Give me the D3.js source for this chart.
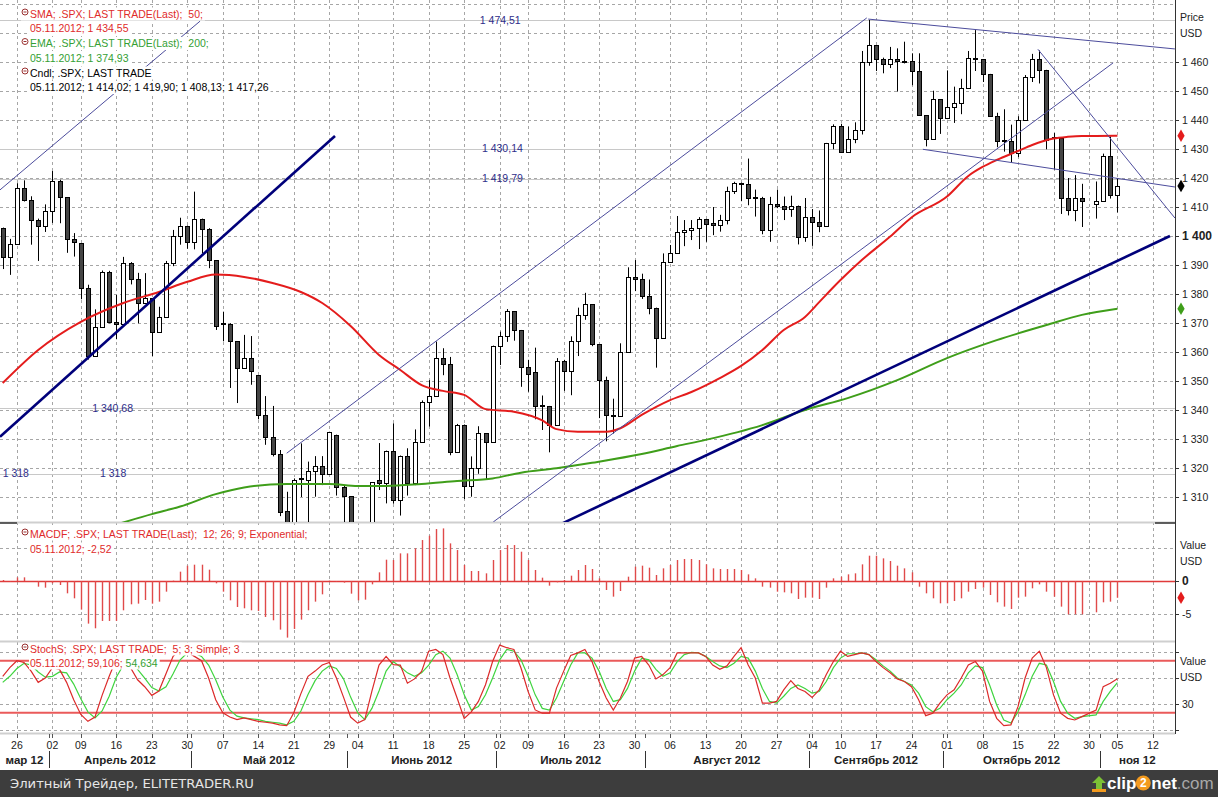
<!DOCTYPE html>
<html><head><meta charset="utf-8">
<script src="https://cdn.jsdelivr.net/npm/d3@7"></script>
<style>
body{margin:0;background:#fff;overflow:hidden}
svg{display:block}
text{font-family:"Liberation Sans",Arial,sans-serif;white-space:pre}
</style>
</head><body>
<svg id="c" width="1218" height="797"></svg>
<script>
// ---------------- DATA ----------------
const opens = [1402.9,1392.8,1397.1,1416.5,1412.5,1405.5,1403.3,1408.5,1419.0,1413.4,
1399.0,1397.5,1382.2,1358.6,1368.7,1387.6,1370.3,1369.6,1390.8,1385.1,
1376.9,1378.5,1366.9,1372.0,1390.7,1400.0,1403.4,1397.9,1405.8,1402.3,
1391.6,1369.9,1369.6,1363.7,1354.6,1358.0,1352.0,1338.4,1330.7,1324.8,
1305.1,1295.7,1316.7,1316.0,1318.9,1320.7,1317.8,1331.3,1313.3,1310.3,
1278.0,1278.2,1285.5,1315.9,1315.0,1325.7,1308.9,1324.2,1314.9,1329.1,
1342.8,1344.8,1358.0,1355.7,1325.5,1335.0,1313.7,1320.0,1331.9,1329.0,
1362.2,1365.5,1374.0,1367.6,1354.7,1353.0,1341.6,1341.4,1334.8,1356.8,
1353.6,1363.7,1372.8,1376.5,1362.7,1350.5,1338.4,1337.9,1360.0,1385.9,
1385.3,1379.3,1375.3,1365.0,1391.0,1394.2,1401.4,1402.2,1402.6,1405.9,
1404.4,1403.9,1405.5,1415.5,1418.2,1418.1,1413.5,1413.2,1402.1,1411.1,
1410.4,1409.3,1410.5,1399.5,1406.6,1404.9,1403.4,1432.1,1437.9,1429.1,
1433.6,1436.6,1460.0,1465.8,1461.2,1459.3,1461.1,1460.3,1460.2,1456.9,
1441.6,1433.3,1447.2,1440.7,1444.5,1445.8,1451.0,1461.4,1460.9,1455.9,
1441.5,1433.0,1432.8,1428.6,1440.1,1454.9,1460.9,1457.3,1434.0,1433.8,
1413.1,1408.8,1413.0,null,1411.0,1412.2,1427.6,1414.02];
const highs = [1402.9,1399.0,1418.2,1419.2,1413.7,1406.0,1410.9,1422.4,1419.4,1413.4,
1401.0,1397.5,1383.2,1374.7,1388.1,1388.0,1379.7,1392.8,1391.0,1387.3,
1387.2,1378.5,1375.6,1391.4,1402.1,1406.3,1403.6,1415.3,1406.0,1402.7,
1391.6,1373.9,1369.9,1363.7,1365.9,1365.5,1352.0,1344.8,1341.4,1326.2,
1311.8,1316.4,1328.5,1322.2,1324.1,1324.1,1332.5,1331.5,1314.0,1310.3,
1282.6,1287.1,1315.1,1328.6,1326.0,1335.4,1324.3,1326.8,1333.3,1343.3,
1350.3,1363.6,1361.3,1358.3,1335.2,1335.0,1324.0,1334.4,1331.9,1362.2,
1367.0,1374.8,1374.0,1367.6,1357.3,1361.5,1345.0,1341.4,1357.9,1357.3,
1365.4,1375.3,1380.4,1376.5,1362.7,1351.5,1343.9,1363.0,1389.2,1391.7,
1387.0,1385.0,1375.3,1394.0,1396.9,1406.9,1405.5,1405.5,1406.5,1405.9,
1410.0,1407.3,1417.0,1418.7,1418.4,1426.7,1416.0,1413.5,1413.5,1416.0,
1413.6,1413.9,1410.5,1413.1,1409.3,1408.8,1432.1,1438.5,1438.7,1437.8,
1439.2,1463.8,1474.5,1465.8,1461.5,1465.2,1464.7,1467.0,1463.0,1463.0,
1441.6,1450.1,1447.2,1457.1,1451.5,1454.2,1463.8,1471.0,1460.9,1455.9,
1442.5,1443.7,1438.4,1441.3,1455.5,1462.8,1464.0,1457.3,1435.5,1433.8,
1420.0,1421.0,1418.0,null,1418.8,1428.4,1434.3,1419.9];
const lows = [1388.6,1386.6,1397.1,1411.9,1397.0,1391.4,1401.4,1404.5,1404.4,1394.2,
1392.9,1378.2,1357.4,1358.6,1368.7,1369.9,1364.4,1369.6,1383.3,1369.9,
1376.9,1358.6,1366.9,1372.0,1389.6,1397.0,1395.6,1395.4,1394.0,1388.9,
1367.6,1363.7,1347.6,1342.4,1354.2,1348.7,1336.8,1328.0,1324.0,1303.4,
1292.0,1295.7,1310.0,1296.5,1310.1,1314.1,1317.8,1310.5,1298.9,1277.3,
1266.7,1274.6,1285.5,1312.4,1307.8,1307.7,1303.6,1310.5,1314.1,1329.1,
1334.3,1344.8,1352.0,1324.4,1325.5,1309.3,1310.1,1318.0,1316.0,1329.0,
1355.5,1363.5,1363.9,1348.0,1346.3,1336.8,1333.1,1325.4,1334.8,1346.6,
1345.1,1358.6,1371.1,1362.0,1337.2,1329.2,1331.9,1337.9,1360.0,1381.0,
1378.3,1373.0,1354.6,1365.0,1391.0,1394.2,1396.5,1398.6,1395.5,1398.0,
1400.3,1401.5,1404.0,1414.5,1412.0,1410.6,1406.7,1400.6,1398.0,1409.6,
1405.5,1406.6,1397.1,1398.0,1396.6,1401.3,1403.4,1429.9,1428.9,1429.1,
1432.0,1435.0,1458.7,1456.9,1456.1,1457.9,1449.8,1459.5,1452.0,1441.4,
1430.9,1433.3,1435.2,1440.3,1439.0,1442.0,1451.0,1456.9,1453.1,1441.2,
1430.6,1429.1,1425.5,1427.2,1440.1,1453.1,1452.6,1429.9,1422.9,1407.6,
1407.1,1405.1,1403.1,null,1406.0,1412.2,1412.9,1408.13];
const closes = [1392.8,1397.1,1416.5,1412.5,1405.5,1403.3,1408.5,1419.0,1413.4,1399.0,
1398.1,1382.2,1358.6,1368.7,1387.6,1370.3,1369.6,1390.8,1385.1,1376.9,
1378.5,1366.9,1372.0,1390.7,1400.0,1403.4,1397.9,1405.8,1402.3,1391.6,
1369.1,1369.6,1363.7,1354.6,1358.0,1353.4,1338.4,1330.7,1324.8,1304.9,
1295.2,1316.0,1316.6,1318.9,1320.7,1317.8,1332.4,1313.3,1310.3,1278.0,
1278.2,1285.5,1315.1,1315.0,1325.7,1308.9,1324.2,1314.9,1329.1,1342.8,
1344.8,1358.0,1355.7,1325.5,1335.0,1313.7,1320.0,1331.9,1329.0,1362.2,
1365.5,1374.0,1367.6,1354.7,1352.5,1341.5,1341.4,1334.8,1356.8,1353.6,
1363.7,1372.8,1376.5,1362.7,1350.5,1338.3,1337.9,1360.0,1386.0,1385.3,
1379.3,1375.3,1365.0,1391.0,1394.2,1401.4,1402.2,1402.8,1405.9,1404.1,
1403.9,1405.5,1415.5,1418.2,1418.1,1413.2,1413.2,1402.1,1411.1,1410.4,
1409.3,1410.5,1399.5,1406.6,1404.9,1403.4,1432.1,1437.9,1429.1,1433.6,
1436.6,1460.0,1465.8,1461.2,1459.3,1461.1,1460.3,1460.2,1456.9,1441.6,
1433.3,1447.2,1440.7,1444.5,1445.8,1451.0,1461.4,1460.9,1455.9,1441.5,
1432.6,1432.8,1428.6,1440.1,1454.9,1460.9,1457.3,1433.2,1433.8,1413.1,
1408.8,1413.0,1411.9,null,1412.2,1427.6,1414.2,1417.26];

// SMA(50) and EMA(200) read at sample slots
const smaIdx = [0,5,11,17,22,26,30,34,38,42,45,49,53,56,59,62,65,68,72,76,78,81,85,87,90,94,97,101,104,107,110,113,115,118,121,125,128,133,136,138,140,143,145,148,150,152,154,157];
const smaVal = [1349.3,1360.7,1370.4,1376.9,1380.7,1384.2,1386.7,1385.9,1383.8,1380.7,1376.9,1369,1359,1353.8,1348.6,1346.6,1345.2,1340.3,1339.4,1336.4,1333.4,1332.5,1332.5,1333.7,1338.3,1343.4,1346.2,1351,1355.2,1360.7,1367.6,1372.1,1377.2,1384.8,1391.7,1399.8,1406.4,1413.6,1420.7,1423.8,1426.2,1429.3,1431.4,1433.6,1434.2,1434.5,1434.5,1434.55];
const emaIdx = [16,21,25,30,34,40,46,50,54,59,64,69,73,78,83,90,95,99,107,113,119,126,133,140,147,152,157];
const emaVal = [1300.5,1304.1,1306.7,1311,1313.3,1314.5,1314.5,1313.8,1313.8,1314.5,1315.5,1316.4,1318.4,1319.9,1321.8,1324.8,1327.6,1329.7,1334.8,1340,1344.1,1350.3,1357.9,1364.1,1369.3,1372.8,1374.93];

const macdHist = [0.15,-0.1,0.55,0.55,0,-0.85,-1.0,-0.35,-0.6,-1.85,
-2.6,-4.3,-6.4,-7.1,-6.0,-6.0,-6.0,-4.4,-3.5,-3.4,
-2.85,-3.4,-3.1,-1.6,0.05,1.4,2.3,2.45,2.45,1.7,
-0.35,-1.6,-2.9,-3.9,-4.1,-4.4,-4.5,-5.4,-5.9,-7.3,
-8.5,-7.2,-5.8,-4.4,-3.1,-2.0,0.05,-0.1,-0.25,-1.9,
-2.9,-2.8,-0.5,1.3,3.2,3.15,4.15,4.15,4.9,6.15,
6.8,7.8,7.9,5.65,4.65,2.4,1.5,1.5,1.15,3.15,
4.65,5.4,5.4,4.4,3.15,1.65,0.5,-0.7,-0.2,0.15,
0.8,1.65,2.4,1.8,0.4,-1.35,-2.35,-1.5,0.65,2.15,
2.3,2.0,0.9,1.9,2.4,3.15,3.3,3.3,3.15,2.5,
1.9,1.8,1.8,1.8,1.65,1.0,0.4,-0.85,-1.0,-1.6,
-1.7,-1.85,-2.7,-2.5,-2.5,-2.7,-1.0,0.4,0.65,1.0,
1.15,2.5,3.8,3.8,3.4,3.0,2.3,1.9,1.3,-0.85,
-1.85,-2.6,-3.35,-3.35,-3.0,-2.6,-1.6,-1.2,-1.0,-2.1,
-3.2,-3.85,-4.2,-2.5,-2.35,-1.1,-0.5,-1.6,-2.35,-3.85,
-5.0,-5.0,-5.0,null,-4.7,-3.2,-3.1,-2.52];

const stochK = [62,72,80,78,68,55,60,72,70,55,
35,18,10,15,40,62,82,80,72,58,
50,40,45,65,85,93,90,85,80,60,
35,20,15,12,14,12,10,9,8,6,
5,20,42,62,68,75,78,60,38,15,
8,12,45,75,85,75.4,75,54,59,67.7,
91,93,87,60,37,13.5,21,33,52.2,79,
98,95,93,71.6,44.5,23.2,19.4,19.4,48.4,67.7,
86,89,93,79,56,37,23,37,56,83,
85,75,59,64,72,89,89,89,89,85,
75,70,74,85,95,75,60,31,31,33,
46.4,57,48,44.5,37.5,46.4,64,79,91,85,
87,89,87,79,72,66,59,56,50,35,
16.6,19.4,31,40.6,46.4,60,75,79,68,33,
13.5,5,6,27,60,83,91,72,40.6,19.4,
13.5,11.6,15.5,null,23,50,54,59.1];
const stochD = [55,62,71,77,75,67,61,62,67,66,
53,36,21,14,22,39,61,75,78,70,
60,49,45,50,65,81,89,89,85,75,
58,38,23,16,14,13,12,10,9,8,
6,10,22,41,57,68,74,71,59,38,
20,12,25,45,68,79,73,66,62,66,
75,87,91,83,64,40.6,23,27,40.6,60,
81,93,91,81,62,40.6,25,23,37,56,
75,89,89,83,68,48,33,35,48,68,
83,81,70,62,66,79,87,89.6,89,85,
79,74,72,77,85,83,68,48,33,31,
39,48,52,48,42.5,44.5,56,72,83,88,
88,89,87,81,74,68,60,56,52,42.5,
27,21,25,35,42.5,52,66,74,72,52,
29,11.6,8,21,40.6,62,77,75,56,33,
19.4,13.5,15.5,null,17.5,33,44.5,54.6];

// drawn trend lines: [slot, price] endpoints
const boldFrom = [[-0.38,1330.8],[78.9,1301]];
const boldTo   = [[46.8,1434.5],[164.4,1400]];
const thinFrom = [[40,1325.1],[69.1,1301.4],[-0.38,1415.9],[121.9,1474.8],[129.6,1429.9],[145.8,1464.4]];
const thinTo   = [[121.7,1475.2],[156.4,1459.7],[27.8,1474.1],[165.1,1464.5],[165.1,1416.9],[165.1,1406.2]];

// horizontal levels
const levelValues = [1474.51,1430.14,1419.79,1340.68,1318];
const levelLabelVal = [1474.51,1430.14,1419.79,1340.68,1318,1318];
const levelLabelIdx = [67.2,67.5,67.5,12.6,0,13.7];
const levelLabels = ["1 474,51","1 430,14","1 419,79","1 340,68","1 318","1 318"];

const priceTicks = d3.range(1310,1461,10);
const priceGrid = d3.range(1310,1481,10);
const macdTicks = [0,-5];
const macdGrid = [5,-5];
const stochGrid = [0,30,60,90];
const stochTicks = [30];

const weekTickIdx = [2,7,11,16,21,26,31,36,41,46,50,55,60,65,70,74,79,84,89,94,99,104,109,114,118,123,128,133,138,143,148,153,157,162];
const weekTickLabels = ["26","02","09","16","23","30","07","14","21","29","04","11","18","25","02","09","16","23","30","06","13","20","27","04","10","17","24","01","08","15","22","30","05","12"];
const monthStartIdx = [7,27,49,70,91,114,133,155];
const monthLabels = ["мар 12","Апрель 2012","Май 2012","Июнь 2012","Июль 2012","Август 2012","Сентябрь 2012","Октябрь 2012","ноя 12"];

// ---------------- DRAW ----------------
const svg = d3.select("#c");
const AX = 1175;
const P = {main:[0,522], macd:[524,640], stoch:[643,733]};
const x = d3.scaleLinear().domain([0,157]).range([2.7,1117.4]);
const yP = d3.scaleLinear().domain([1310,1460]).range([497,62]);
const yM = d3.scaleLinear().domain([-5,0]).range([614.3,581]);
const yS = d3.scaleLinear().domain([20,80]).range([712.7,660.7]);
const px = v => Math.round(v)+0.5;
const fmtP = v => { const s=String(v); return s.slice(0,s.length-3)+" "+s.slice(-3); };

svg.append("rect").attr("width",1218).attr("height",797).attr("fill","#fff");
const defs = svg.append("defs");
Object.entries(P).forEach(([k,[t,b]])=>{
  defs.append("clipPath").attr("id","clip-"+k).append("rect").attr("x",0).attr("y",t).attr("width",AX).attr("height",b-t);
});

const GRID = "#a6a6a6";
const grid = svg.append("g");
grid.selectAll("line.v").data(weekTickIdx.filter(i=>x(i)<AX)).join("line")
  .attr("x1",d=>px(x(d))).attr("x2",d=>px(x(d))).attr("y1",0).attr("y2",733)
  .attr("stroke",GRID).attr("stroke-dasharray","3,3");
grid.selectAll("line.hp").data(priceGrid).join("line")
  .attr("x1",0).attr("x2",AX).attr("y1",d=>px(yP(d))).attr("y2",d=>px(yP(d)))
  .attr("stroke",GRID).attr("stroke-dasharray","3,3");
grid.selectAll("line.hm").data(macdGrid).join("line")
  .attr("x1",0).attr("x2",AX).attr("y1",d=>px(yM(d))).attr("y2",d=>px(yM(d)))
  .attr("stroke",GRID).attr("stroke-dasharray","3,3");
grid.selectAll("line.hs").data(stochGrid).join("line")
  .attr("x1",0).attr("x2",AX).attr("y1",d=>px(yS(d))).attr("y2",d=>px(yS(d)))
  .attr("stroke",GRID).attr("stroke-dasharray","3,3");

// panel separators
[522.5,641.5,733.5].forEach(yy=>{
  svg.append("line").attr("x1",0).attr("x2",AX).attr("y1",yy).attr("y2",yy).attr("stroke","#cfcfcf").attr("stroke-width",2);
});
svg.append("line").attr("x1",0).attr("x2",17).attr("y1",523).attr("y2",523).attr("stroke","#333").attr("stroke-width",1.5);
svg.append("line").attr("x1",1155).attr("x2",AX).attr("y1",523).attr("y2",523).attr("stroke","#333").attr("stroke-width",1.5);

// ---- main panel
const main = svg.append("g").attr("clip-path","url(#clip-main)");
main.selectAll("line.lvl").data(levelValues).join("line")
  .attr("x1",0).attr("x2",AX).attr("y1",d=>px(yP(d))).attr("y2",d=>px(yP(d)))
  .attr("stroke","#c8c8c8");

const candles = d3.range(opens.length).filter(i=>opens[i]!=null)
  .map(i=>({i,o:opens[i],h:highs[i],l:lows[i],c:closes[i]}));
const gc = main.append("g");
gc.selectAll("line").data(candles).join("line")
  .attr("x1",d=>px(x(d.i))).attr("x2",d=>px(x(d.i)))
  .attr("y1",d=>yP(d.h)).attr("y2",d=>yP(d.l)).attr("stroke","#000");
gc.selectAll("rect").data(candles).join("rect")
  .attr("x",d=>Math.round(x(d.i))-2+0.5)
  .attr("y",d=>Math.round(yP(Math.max(d.o,d.c)))+0.5)
  .attr("width",4)
  .attr("height",d=>Math.max(1,Math.round(yP(Math.min(d.o,d.c)))-Math.round(yP(Math.max(d.o,d.c)))))
  .attr("fill",d=>d.c>=d.o?"#fff":"#454545").attr("stroke","#000");

const lineGen = d3.line().curve(d3.curveMonotoneX);
main.append("path").datum(smaIdx.map((s,k)=>[x(s),yP(smaVal[k])]))
  .attr("d",lineGen).attr("fill","none").attr("stroke","#e41c1c").attr("stroke-width",2);
main.append("path").datum(emaIdx.map((s,k)=>[x(s),yP(emaVal[k])]))
  .attr("d",lineGen).attr("fill","none").attr("stroke","#3f9e1a").attr("stroke-width",2);

main.selectAll("line.bold").data(boldFrom.map((f,k)=>[f,boldTo[k]])).join("line")
  .attr("x1",d=>x(d[0][0])).attr("y1",d=>yP(d[0][1])).attr("x2",d=>x(d[1][0])).attr("y2",d=>yP(d[1][1]))
  .attr("stroke","#00007a").attr("stroke-width",2.6);
main.selectAll("line.thin").data(thinFrom.map((f,k)=>[f,thinTo[k]])).join("line")
  .attr("x1",d=>x(d[0][0])).attr("y1",d=>yP(d[0][1])).attr("x2",d=>x(d[1][0])).attr("y2",d=>yP(d[1][1]))
  .attr("stroke","#4c4c9c").attr("stroke-width",1);

main.selectAll("text.lvl").data(levelLabels).join("text")
  .attr("x",(d,k)=>x(levelLabelIdx[k])).attr("y",(d,k)=>yP(levelLabelVal[k])).attr("dy","0.35em")
  .attr("fill","#2e2e8a").style("font-size","10.5px").text(d=>d);

// ---- MACD panel
const macd = svg.append("g").attr("clip-path","url(#clip-macd)");
macd.append("line").attr("x1",0).attr("x2",AX).attr("y1",px(yM(0))).attr("y2",px(yM(0))).attr("stroke","#e03a3a").attr("stroke-width",1.3);
macd.selectAll("line.bar").data(d3.range(macdHist.length).filter(i=>macdHist[i]!=null)).join("line")
  .attr("x1",i=>px(x(i))).attr("x2",i=>px(x(i))).attr("y1",yM(0)).attr("y2",i=>yM(macdHist[i]))
  .attr("stroke","#e04a4a").attr("stroke-width",1.4);

// ---- Stoch panel
const st = svg.append("g").attr("clip-path","url(#clip-stoch)");
[80,20].forEach(v=>st.append("line").attr("x1",0).attr("x2",AX).attr("y1",yS(v)).attr("y2",yS(v))
  .attr("stroke","#ea5a5a").attr("stroke-width",2));
const sl = d3.line();
st.append("path").datum(d3.range(stochD.length).filter(i=>stochD[i]!=null).map(i=>[x(i),yS(stochD[i])]))
  .attr("d",sl).attr("fill","none").attr("stroke","#3fd43f").attr("stroke-width",1.2);
st.append("path").datum(d3.range(stochK.length).filter(i=>stochK[i]!=null).map(i=>[x(i),yS(stochK[i])]))
  .attr("d",sl).attr("fill","none").attr("stroke","#dc2a2a").attr("stroke-width",1.2);

// ---- legends
function legendRow(xp, yp, parts, icon){
  const g = svg.append("g");
  const t = g.append("text").attr("x",xp).attr("y",yp).attr("dy","0.35em").attr("xml:space","preserve").style("font-size","10.5px");
  parts.forEach(p=>t.append("tspan").attr("fill",p[1]).text(p[0]));
  const w = t.node().getComputedTextLength();
  const x0 = icon ? xp-9 : xp-1;
  g.insert("rect",()=>t.node()).attr("x",x0).attr("y",yp-6.5).attr("width",w+(xp-x0)+2).attr("height",13).attr("fill","#fff");
  if(icon){
    g.append("circle").attr("cx",xp-5).attr("cy",yp-2).attr("r",3).attr("fill","#fff").attr("stroke","#9a3030").attr("stroke-width",1);
    g.append("line").attr("x1",xp-6.5).attr("x2",xp-3.5).attr("y1",yp-2).attr("y2",yp-2).attr("stroke","#9a3030");
  }
}
const RED="#e02a2a", GRN="#34a034";
legendRow(30,14,[["SMA; .SPX; LAST TRADE(Last);  50;",RED]],true);
legendRow(30,28.5,[["05.11.2012; 1 434,55",RED]],false);
legendRow(30,43.5,[["EMA; .SPX; LAST TRADE(Last);  200;",GRN]],true);
legendRow(30,58,[["05.11.2012; 1 374,93",GRN]],false);
legendRow(30,73,[["Cndl; .SPX; LAST TRADE","#000"]],true);
legendRow(30,87.5,[["05.11.2012; 1 414,02; 1 419,90; 1 408,13; 1 417,26","#000"]],false);
legendRow(30,534,[["MACDF; .SPX; LAST TRADE(Last);  12; 26; 9; Exponential;",RED]],true);
legendRow(30,549,[["05.11.2012; -2,52",RED]],false);
legendRow(30,649,[["StochS; .SPX; LAST TRADE;  5; 3; Simple; 3",RED]],true);
legendRow(30,663,[["05.11.2012; 59,106; ",RED],["54,634",GRN]],false);

// ---- right axes
const ax = svg.append("g");
ax.append("line").attr("x1",AX+0.5).attr("x2",AX+0.5).attr("y1",0).attr("y2",734).attr("stroke","#333");
function rightTicks(vals, scale, labelled, boldVal){
  vals.forEach(v=>{
    const yy = px(scale(v));
    ax.append("line").attr("x1",AX).attr("x2",AX+4).attr("y1",yy).attr("y2",yy).attr("stroke","#333");
    if(labelled.includes(v)){
      ax.append("text").attr("x",AX+7).attr("y",scale(v)).attr("dy","0.36em")
        .style("font-size", v===boldVal?"12px":"10.5px").style("font-weight",v===boldVal?"bold":"normal")
        .attr("fill","#222").text(v>=1000 ? fmtP(v) : String(v));
    }
  });
}
rightTicks(priceTicks, yP, priceTicks, 1400);
rightTicks(macdTicks, yM, macdTicks, 0);
rightTicks(stochGrid, yS, stochTicks, null);
[["Price",17],["USD",33],["Value",545],["USD",561],["Value",661],["USD",677]].forEach(([t,yy])=>{
  ax.append("text").attr("x",AX+5).attr("y",yy).attr("dy","0.35em").style("font-size","10.5px").attr("fill","#222").text(t);
});
const dia = d3.symbol(d3.symbolDiamond,46);
[[yP(smaVal[smaVal.length-1]),"#e41c1c"],[yP(closes[closes.length-1]),"#000"],[yP(emaVal[emaVal.length-1]),"#3f9e1a"],[yM(macdHist[macdHist.length-1]),"#e41c1c"]]
  .forEach(([yy,c])=>ax.append("path").attr("d",dia).attr("transform",`translate(${AX+6},${yy})`).attr("fill",c));

// ---- bottom date axis
const bx = svg.append("g");
weekTickIdx.forEach((i,k)=>{
  const xx = x(i);
  if(xx>AX) return;
  bx.append("line").attr("x1",px(xx)).attr("x2",px(xx)).attr("y1",734).attr("y2",738).attr("stroke","#555");
  bx.append("text").attr("x",xx).attr("y",745).attr("dy","0.35em").attr("text-anchor","middle")
    .style("font-size","10.5px").attr("fill","#222").text(weekTickLabels[k]);
});
const bounds = [0, ...monthStartIdx.map(m=>x(m-0.5)), AX];
monthStartIdx.forEach(m=>{
  const xx = px(x(m-0.5));
  bx.append("line").attr("x1",xx).attr("x2",xx).attr("y1",734).attr("y2",738).attr("stroke","#555");
  bx.append("line").attr("x1",xx).attr("x2",xx).attr("y1",751).attr("y2",768).attr("stroke","#333");
});
monthLabels.forEach((t,k)=>{
  bx.append("text").attr("x",(bounds[k]+bounds[k+1])/2).attr("y",760).attr("dy","0.35em").attr("text-anchor","middle")
    .style("font-size","11.5px").style("font-weight","bold").attr("fill","#222").text(t);
});

// ---- footer
svg.append("rect").attr("x",0).attr("y",770).attr("width",1218).attr("height",27).attr("fill","#3d3d3d");
svg.append("text").attr("x",10).attr("y",784).attr("dy","0.35em").attr("fill","#e6e6e6")
  .style("font-family","'DejaVu Sans',sans-serif").style("font-size","12.5px")
  .attr("textLength",244).attr("lengthAdjust","spacingAndGlyphs").text("Элитный Трейдер, ELITETRADER.RU");
const lg = svg.append("g");
lg.append("path").attr("d","M1099,776 L1106,783 L1102,783 L1102,789 L1096,789 L1096,783 L1092,783 Z").attr("fill","#7cc035");
lg.append("rect").attr("x",1092).attr("y",789).attr("width",14).attr("height",3).attr("fill","#f39a1e");
const lt = lg.append("text").attr("x",1107).attr("y",783).attr("dy","0.35em")
  .style("font-size","17px").style("font-weight","bold").attr("fill","#fff");
lt.append("tspan").text("clip");
const wClip = lt.node().getComputedTextLength();
lg.append("circle").attr("cx",1107+wClip+7).attr("cy",783).attr("r",7.5).attr("fill","#f39a1e");
lg.append("text").attr("x",1107+wClip+7).attr("y",783).attr("dy","0.36em").attr("text-anchor","middle")
  .style("font-size","12px").style("font-weight","bold").attr("fill","#fff").text("2");
const lt2 = lg.append("text").attr("x",1107+wClip+15).attr("y",783).attr("dy","0.35em")
  .style("font-size","17px").style("font-weight","bold");
lt2.append("tspan").attr("fill","#fff").text("net");
lt2.append("tspan").attr("fill","#a8a8a8").style("font-weight","normal").text(".com");
</script>
</body></html>
